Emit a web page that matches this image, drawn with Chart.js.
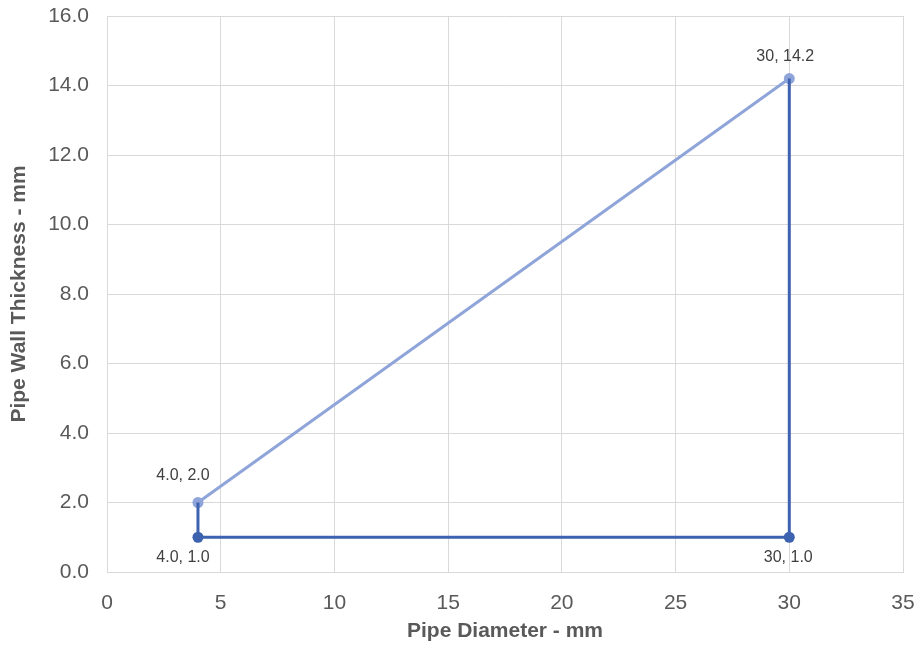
<!DOCTYPE html>
<html>
<head>
<meta charset="utf-8">
<script src="https://cdn.jsdelivr.net/npm/chart.js@4"></script>
<style>
  html, body { margin: 0; padding: 0; background: #fff; }
  #wrap { width: 921px; height: 648px; position: relative; }
</style>
</head>
<body>
<div id="wrap"><canvas id="chart"></canvas></div>
<script>
// Data
const lightX = [4, 30];
const lightY = [2.0, 14.2];
const darkX = [4, 4, 30, 30];
const darkY = [2.0, 1.0, 1.0, 14.2];
const darkPointRadius = [0, 5.5, 5.5, 0];

const pointLabels = ['4.0, 2.0', '4.0, 1.0', '30, 14.2', '30, 1.0'];
const labelX = [4, 4, 30, 30];
const labelY = [2.0, 1.0, 14.2, 1.0];
const labelPlace = ['above', 'below', 'above', 'below'];

const xTitle = 'Pipe Diameter - mm';
const yTitle = 'Pipe Wall Thickness - mm';

const FONT = '"Liberation Sans", Arial, sans-serif';
const toPoints = (xs, ys) => xs.map((x, i) => ({ x: x, y: ys[i] }));

// Draws the data labels next to the points
const labelPlugin = {
    id: 'pointLabels',
    afterDatasetsDraw(chart) {
        const ctx = chart.ctx;
        const xs = chart.scales.x, ys = chart.scales.y;
        ctx.save();
        ctx.font = '16px ' + FONT;
        ctx.fillStyle = '#404040';
        ctx.textAlign = 'center';
        ctx.textBaseline = 'middle';
        pointLabels.forEach((txt, i) => {
            const px = xs.getPixelForValue(labelX[i]);
            const py = ys.getPixelForValue(labelY[i]);
            let dx = 0, dy = 0;
            if (labelPlace[i] === 'above') {
                dx = labelX[i] < 10 ? -15 : -4;
                dy = labelX[i] < 10 ? -27 : -22;
            } else {
                dx = labelX[i] < 10 ? -15 : -1;
                dy = 20;
            }
            ctx.fillText(txt, px + dx, py + dy);
        });
        ctx.restore();
    }
};

new Chart(document.getElementById('chart'), {
    type: 'scatter',
    data: {
        datasets: [{
            label: 'Light',
            data: toPoints(lightX, lightY),
            showLine: true,
            borderColor: '#8fa5da',
            backgroundColor: '#8fa5da',
            borderWidth: 3,
            pointRadius: 5.5,
            pointBorderWidth: 0,
            order: 2
        }, {
            label: 'Dark',
            data: toPoints(darkX, darkY),
            showLine: true,
            borderColor: '#3d62b0',
            backgroundColor: '#3d62b0',
            borderWidth: 3,
            pointRadius: darkPointRadius,
            pointBorderWidth: 0,
            order: 1
        }]
    },
    options: {
        responsive: true,
        maintainAspectRatio: false,
        animation: false,
        layout: { padding: { top: 16, right: 18, left: 0, bottom: 0 } },
        plugins: {
            legend: { display: false },
            tooltip: { enabled: false }
        },
        scales: {
            x: {
                type: 'linear',
                min: 0,
                max: 35,
                ticks: {
                    stepSize: 5,
                    color: '#595959',
                    font: { family: FONT, size: 21 },
                    padding: 19
                },
                grid: { color: '#d9d9d9', drawTicks: false },
                border: { color: '#d9d9d9' },
                title: {
                    display: true,
                    text: xTitle,
                    color: '#595959',
                    font: { family: FONT, size: 21, weight: 'bold' },
                    padding: { top: 4, bottom: 4 }
                },
                afterFit(scale) {
                    scale.height = 76;
                    scale.paddingLeft = 0;
                    scale.paddingRight = 0;
                }
            },
            y: {
                type: 'linear',
                min: 0,
                max: 16,
                ticks: {
                    stepSize: 2,
                    color: '#595959',
                    font: { family: FONT, size: 21 },
                    padding: 18,
                    callback: v => v.toFixed(1)
                },
                grid: { color: '#d9d9d9', drawTicks: false },
                border: { color: '#d9d9d9' },
                title: {
                    display: true,
                    text: yTitle,
                    color: '#595959',
                    font: { family: FONT, size: 21, weight: 'bold' },
                    padding: { top: 7, bottom: 4 }
                },
                afterFit(scale) {
                    scale.width = 107;
                    scale.paddingTop = 0;
                    scale.paddingBottom = 0;
                }
            }
        }
    },
    plugins: [labelPlugin]
});
</script>
</body>
</html>
